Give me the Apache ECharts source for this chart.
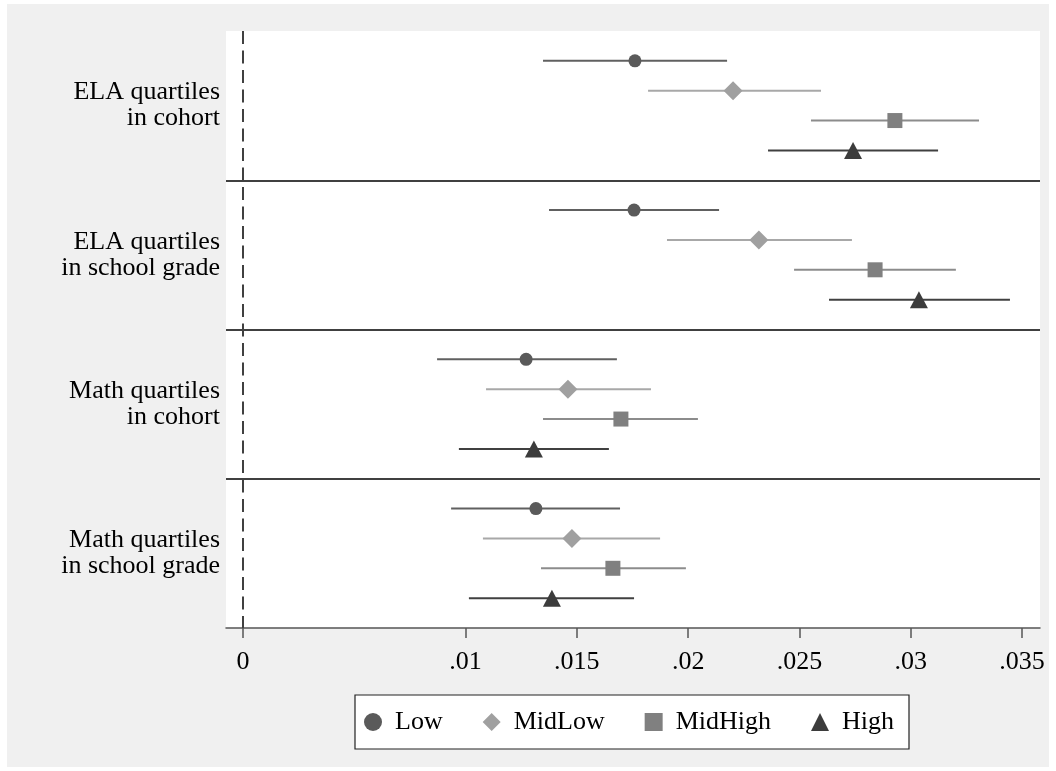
<!DOCTYPE html>
<html>
<head>
<meta charset="utf-8">
<title>Quartile coefficients</title>
<script src="https://cdn.jsdelivr.net/npm/echarts@6/dist/echarts.min.js"></script>
<style>
  body { margin: 0; background: #fff; }
  .wrap { position: relative; width: 1056px; height: 771px; background: #fff; }
  .frame { position: absolute; left: 7px; top: 4px; width: 1042px; height: 763px; background: #f0f0f0; }
  #chart { position: absolute; left: 0; top: 0; width: 1056px; height: 771px; }
</style>
</head>
<body>
<div class="wrap">
  <div class="frame"></div>
  <div id="chart"></div>
</div>
<script>
// groups (top to bottom) and quartiles within each group
const groups = ['ELA quartiles\nin cohort', 'ELA quartiles\nin school grade', 'Math quartiles\nin cohort', 'Math quartiles\nin school grade'];
const quartiles = ['Low', 'MidLow', 'MidHigh', 'High'];

// point estimates and 95% CI bounds, one value per group
const lowEst = [0.01761, 0.01757, 0.01272, 0.01316];
const lowLo = [0.01348, 0.01375, 0.00872, 0.00935];
const lowHi = [0.02175, 0.02139, 0.01680, 0.01694];

const midLowEst = [0.02202, 0.02318, 0.01460, 0.01478];
const midLowLo = [0.01820, 0.01905, 0.01092, 0.01078];
const midLowHi = [0.02597, 0.02736, 0.01833, 0.01874];

const midHighEst = [0.02929, 0.02840, 0.01698, 0.01662];
const midHighLo = [0.02552, 0.02476, 0.01348, 0.01339];
const midHighHi = [0.03307, 0.03203, 0.02044, 0.01990];

const highEst = [0.02741, 0.03037, 0.01307, 0.01388];
const highLo = [0.02359, 0.02633, 0.00970, 0.01015];
const highHi = [0.03123, 0.03446, 0.01644, 0.01757];

const xTicks = [0, 0.01, 0.015, 0.02, 0.025, 0.03, 0.035];

const FONT = '"Liberation Serif", "Times New Roman", serif';

const looks = [
  { est: lowEst, lo: lowLo, hi: lowHi, symbol: 'circle', size: 13, color: '#5a5a5a', line: '#606060' },
  { est: midLowEst, lo: midLowLo, hi: midLowHi, symbol: 'diamond', size: 19, color: '#a0a0a0', line: '#a8a8a8' },
  { est: midHighEst, lo: midHighLo, hi: midHighHi, symbol: 'rect', size: 15, color: '#808080', line: '#8c8c8c' },
  { est: highEst, lo: highLo, hi: highHi, symbol: 'triangle', size: [18, 17], color: '#3c3c3c', line: '#404040' }
];

// row position: 5 slots per group, quartiles on slots 1..4
const rowPos = (g, k) => g * 5 + k + 1;

const series = [];

// CI bars first
looks.forEach((q, k) => {
  series.push({
    name: quartiles[k] + ' CI',
    type: 'custom',
    silent: true,
    renderItem: (params, api) => {
      const a = api.coord([api.value(1), api.value(0)]);
      const b = api.coord([api.value(2), api.value(0)]);
      return {
        type: 'line',
        shape: { x1: a[0], y1: a[1], x2: b[0], y2: b[1] },
        style: { stroke: q.line, lineWidth: 2 }
      };
    },
    encode: { x: [1, 2], y: 0 },
    data: groups.map((_, g) => [rowPos(g, k), q.lo[g], q.hi[g]]),
    z: 2
  });
});

// markers on top
looks.forEach((q, k) => {
  const s = {
    name: quartiles[k],
    type: 'scatter',
    symbol: q.symbol,
    symbolSize: q.size,
    itemStyle: { color: q.color, opacity: 1 },
    data: groups.map((_, g) => [q.est[g], rowPos(g, k)]),
    z: 3
  };
  if (k === 0) {
    s.markLine = {
      silent: true,
      symbol: 'none',
      label: { show: false },
      animation: false,
      data: [
        { yAxis: 5, lineStyle: { color: '#404040', width: 2, type: 'solid' } },
        { yAxis: 10, lineStyle: { color: '#404040', width: 2, type: 'solid' } },
        { yAxis: 15, lineStyle: { color: '#404040', width: 2, type: 'solid' } },
        { xAxis: 0, lineStyle: { color: '#404040', width: 2, type: [13, 6.5] } }
      ]
    };
  }
  series.push(s);
});

const chart = echarts.init(document.getElementById('chart'));
chart.setOption({
  animation: false,
  textStyle: { fontFamily: FONT },
  grid: {
    left: 226, right: 16, top: 31, bottom: 143,
    show: true, backgroundColor: '#fff', borderWidth: 0
  },
  xAxis: {
    type: 'value',
    min: -0.000764,
    max: 0.03581,
    splitLine: { show: false },
    axisLine: { show: true, onZero: false, lineStyle: { color: '#555', width: 1.5 } },
    axisTick: { show: true, length: 10, customValues: xTicks, lineStyle: { color: '#555', width: 1.5 } },
    axisLabel: {
      customValues: xTicks,
      margin: 21,
      color: '#000',
      fontSize: 26,
      fontFamily: FONT,
      formatter: v => (v === 0 ? '0' : String(+v.toFixed(3)).replace(/^0/, ''))
    }
  },
  yAxis: {
    type: 'value',
    min: 0,
    max: 20,
    inverse: true,
    splitLine: { show: false },
    axisLine: { show: false },
    axisTick: { show: false },
    axisLabel: {
      customValues: [2.5, 7.5, 12.5, 17.5],
      margin: 6,
      color: '#000',
      fontSize: 26,
      lineHeight: 26,
      fontFamily: FONT,
      formatter: v => groups[Math.round((v - 2.5) / 5)] || ''
    }
  },
  legend: {
    left: 355,
    top: 695,
    orient: 'horizontal',
    backgroundColor: '#fff',
    borderColor: '#222',
    borderWidth: 1.2,
    borderRadius: 0,
    padding: [12, 15, 12, 9],
    itemWidth: 18,
    itemHeight: 18,
    itemGap: 40,
    selectedMode: false,
    textStyle: { color: '#000', fontSize: 26, fontFamily: FONT, lineHeight: 30, padding: [0, 0, 0, 8] },
    data: [
      { name: 'Low', icon: 'circle' },
      { name: 'MidLow', icon: 'diamond' },
      { name: 'MidHigh', icon: 'rect' },
      { name: 'High', icon: 'triangle' }
    ]
  },
  series: series
});
window.addEventListener('resize', () => chart.resize());
</script>
</body>
</html>
